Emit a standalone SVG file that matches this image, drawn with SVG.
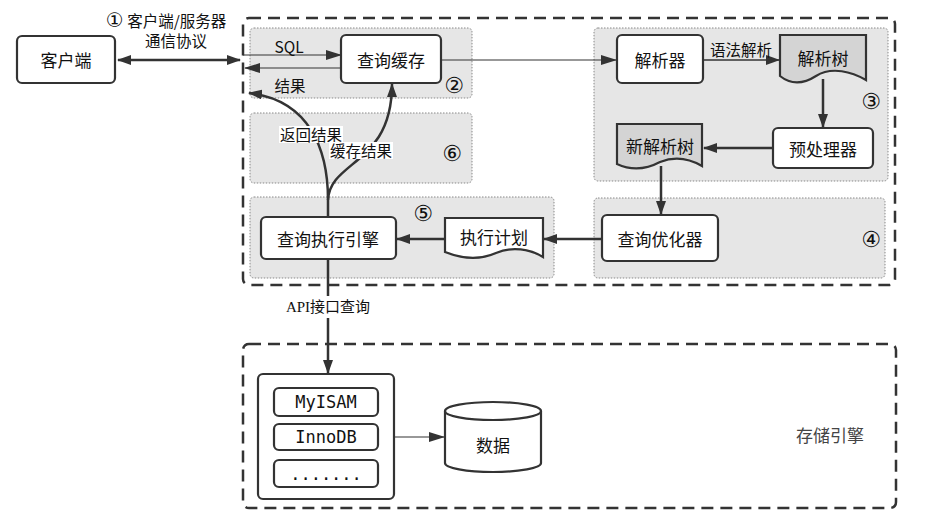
<svg xmlns="http://www.w3.org/2000/svg" width="927" height="530" viewBox="0 0 927 530">
<style>
.t{font-family:"Noto Sans CJK SC","DejaVu Sans",sans-serif;font-size:17px;fill:#111;text-anchor:middle;dominant-baseline:central}
.s{font-size:15.5px}
.num{font-family:"DejaVu Sans",sans-serif;font-size:22px;fill:#111;text-anchor:middle;dominant-baseline:central}
.mono{font-family:"DejaVu Sans Mono","Liberation Mono",monospace;font-size:17px;fill:#111;text-anchor:middle;dominant-baseline:central}
.node{fill:#fff;stroke:#333;stroke-width:2.2}
.doc{fill:#d4d4d4;stroke:#333;stroke-width:2.2}
.panel{fill:#e6e6e6;stroke:#888;stroke-width:1;stroke-dasharray:1.5 1.5}
.dash{fill:none;stroke:#333;stroke-width:2.5;stroke-dasharray:12 7}
.thick{fill:none;stroke:#333;stroke-width:2.5}
.thin{fill:none;stroke:#333;stroke-width:1.2}
</style>
<defs>
<marker id="ah" viewBox="0 0 14 10" refX="13" refY="5" markerWidth="14" markerHeight="10" markerUnits="userSpaceOnUse" orient="auto-start-reverse"><path d="M0,0 L14,5 L0,10 Z" fill="#333"/></marker>
<marker id="ahs" viewBox="0 0 16 10" refX="15" refY="5" markerWidth="16" markerHeight="10" markerUnits="userSpaceOnUse" orient="auto-start-reverse"><path d="M0,0 L16,5 L0,10 Z" fill="#333"/></marker>
</defs>
<rect width="927" height="530" fill="#fff"/>

<g id="server">
<rect class="dash" x="243" y="18" width="652" height="267" rx="6"/>
</g>
<g id="panel2"><rect class="panel" x="250" y="28" width="222" height="70" rx="4"/><text class="num" x="454" y="85">②</text></g>
<g id="panel6"><rect class="panel" x="250" y="113" width="222" height="70" rx="4"/><text class="num" x="452" y="153">⑥</text></g>
<g id="panel3"><rect class="panel" x="594" y="28" width="294" height="153" rx="4"/><text class="num" x="871" y="101">③</text></g>
<g id="panel5"><rect class="panel" x="250" y="197" width="304" height="81" rx="4"/><text class="num" x="423" y="213">⑤</text></g>
<g id="panel4"><rect class="panel" x="594" y="198" width="291" height="80" rx="4"/><text class="num" x="871" y="239">④</text></g>

<g id="storage">
<rect class="dash" x="243" y="344" width="653" height="164" rx="6"/>
<text class="t" x="830" y="434" style="fill:#444">存储引擎</text>
</g>

<g id="client"><rect class="node" x="17" y="36" width="98" height="47" rx="5"/><text class="t" x="66" y="59">客户端</text></g>
<g id="cache"><rect class="node" x="341" y="35" width="100" height="48" rx="5"/><text class="t" x="391" y="59">查询缓存</text></g>
<g id="parser"><rect class="node" x="617" y="35" width="86" height="48" rx="5"/><text class="t" x="660" y="59">解析器</text></g>
<g id="parsetree"><path class="doc" d="M780,35 H866 V80 C852,72 832,66 816,76 C802,85 790,84 780,76 Z"/><text class="t" x="823" y="57">解析树</text></g>
<g id="preproc"><rect class="node" x="773" y="128" width="100" height="40" rx="5"/><text class="t" x="823" y="148">预处理器</text></g>
<g id="newtree"><path class="doc" d="M617,124 H702 V166 C690,159 675,156 660,162 C645,170 630,170 617,164 Z"/><text class="t" x="660" y="145">新解析树</text></g>
<g id="optimizer"><rect class="node" x="602" y="215" width="116" height="46" rx="5"/><text class="t" x="660" y="238">查询优化器</text></g>
<g id="plan"><path class="doc" style="fill:#fff" d="M445,218 H543 V257 C530,249 512,246 496,253 C478,261 460,258 445,252 Z"/><text class="t" x="494" y="236">执行计划</text></g>
<g id="executor"><rect class="node" x="261" y="217" width="135" height="42" rx="5"/><text class="t" x="328" y="238">查询执行引擎</text></g>

<g id="engines">
<rect class="node" x="258" y="374" width="136" height="125" rx="5"/>
<rect class="node" x="274" y="388" width="104" height="28" rx="5"/><text class="mono" x="326" y="402">MyISAM</text>
<rect class="node" x="274" y="424" width="104" height="26" rx="5"/><text class="mono" x="326" y="437">InnoDB</text>
<rect class="node" x="274" y="460" width="104" height="27" rx="5"/><text class="mono" x="326" y="474">.......</text>
</g>
<g id="data">
<path class="node" d="M445,411 V463 A48,9 0 0 0 541,463 V411"/>
<ellipse class="node" cx="493" cy="411" rx="48" ry="9"/>
<text class="t" x="493" y="444">数据</text>
</g>

<g id="connectors">
<line class="thick" x1="118" y1="60" x2="240" y2="60" marker-start="url(#ah)" marker-end="url(#ah)"/>
<line class="thin" x1="243" y1="55" x2="341" y2="55" marker-end="url(#ahs)"/>
<line class="thin" x1="341" y1="68" x2="245" y2="68" marker-end="url(#ahs)"/>
<line class="thin" x1="441" y1="60" x2="616" y2="60" marker-end="url(#ahs)"/>
<line class="thin" style="stroke-width:1.5" x1="703" y1="60" x2="779" y2="60" marker-end="url(#ah)"/>
<line class="thick" x1="823" y1="79" x2="823" y2="127" marker-end="url(#ah)"/>
<line class="thick" x1="773" y1="148" x2="704" y2="148" marker-end="url(#ah)"/>
<line class="thick" x1="661" y1="166" x2="661" y2="214" marker-end="url(#ah)"/>
<line class="thick" x1="602" y1="239" x2="544" y2="239" marker-end="url(#ah)"/>
<line class="thick" x1="445" y1="239" x2="397" y2="239" marker-end="url(#ah)"/>
<path class="thick" d="M328,217 V200 C328,150 310,100 249,93" marker-end="url(#ah)"/>
<path class="thick" d="M328,200 C330,160 392,165 392,84" marker-end="url(#ah)"/>
<line class="thick" x1="328" y1="259" x2="328" y2="296"/>
<line class="thick" x1="328" y1="318" x2="328" y2="373" marker-end="url(#ah)"/>
<line class="thin" x1="394" y1="437" x2="444" y2="437" marker-end="url(#ahs)"/>
</g>

<g id="labels">
<text class="t s" x="166" y="20"><tspan style="font-family:'DejaVu Sans',sans-serif;font-size:20px">①</tspan> 客户端/服务器</text>
<text class="t s" x="176" y="40">通信协议</text>
<text class="t s" x="289" y="46">SQL</text>
<text class="t s" x="290" y="85">结果</text>
<text class="t s" x="741" y="49">语法解析</text>
<rect x="279" y="126" width="64" height="17" fill="#fff"/>
<text class="t s" x="311" y="134">返回结果</text>
<rect x="329" y="142" width="64" height="17" fill="#fff"/>
<text class="t s" x="361" y="150">缓存结果</text>
<text class="t" style="font-family:'Liberation Serif','Noto Sans CJK SC',serif;font-size:15px" x="328" y="307">API接口查询</text>
</g>
</svg>
